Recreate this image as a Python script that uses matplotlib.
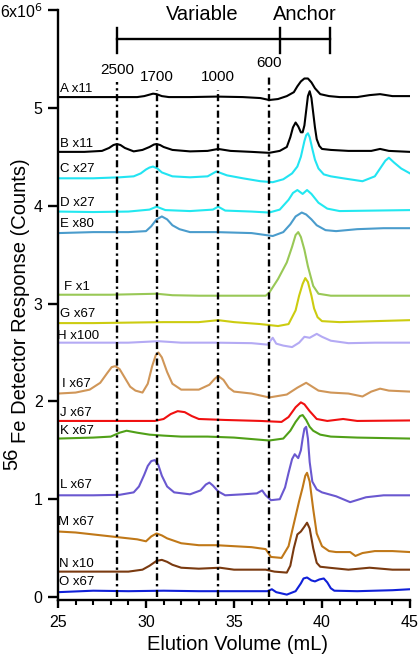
import matplotlib
matplotlib.use("Agg")
import matplotlib.pyplot as plt
from matplotlib.ticker import MultipleLocator

plt.rcParams['font.family'] = ['Liberation Sans', 'DejaVu Sans']

# trace names and scale factors
names = ["A x11", "B x11", "C x27", "D x27", "E x80", "F x1", "G x67", "H x100",
         "I x67", "J x67", "K x67", "L x67", "M x67", "N x10", "O x67"]
colors = ["#000000", "#000000", "#22e4f2", "#22e8f0", "#4a9ccc", "#99c856", "#cccc10",
          "#b4aaf4", "#d09658", "#f01010", "#50a018", "#6a58d0", "#c07818", "#7a3a10", "#1020d8"]

# elution volume (mL) / 56Fe response (x10^6 counts)
A_x = [25, 27, 28.3, 29.5, 29.9, 30.2, 30.4, 30.6, 30.9, 31.3, 32.5, 34.0, 35.5, 36.5, 37.0,
       37.5, 38.0, 38.4, 38.6, 38.8, 39.0, 39.2, 39.4, 39.6, 39.9, 40.4, 41.0, 42.0, 42.7, 43.3,
       44.0, 45]
A_y = [5.11, 5.11, 5.11, 5.11, 5.12, 5.135, 5.145, 5.14, 5.12, 5.11, 5.11, 5.115, 5.11, 5.10,
       5.08, 5.09, 5.12, 5.16, 5.22, 5.27, 5.30, 5.30, 5.26, 5.20, 5.14, 5.12, 5.11, 5.11, 5.13,
       5.14, 5.12, 5.12]

B_x = [25, 26.5, 27.5, 27.9, 28.15, 28.35, 28.55, 28.8, 29.3, 29.8, 30.2, 30.45, 30.6, 30.8,
       31.0, 31.5, 32.5, 33.5, 34.1, 34.8, 36, 37.0, 37.6, 38.0, 38.2, 38.35, 38.5, 38.65, 38.8,
       38.9, 39.0, 39.1, 39.2, 39.3, 39.4, 39.5, 39.6, 39.7, 39.85, 40.0, 40.5, 41.5, 42.8, 43.3,
       43.8, 45]
B_y = [4.55, 4.55, 4.56, 4.59, 4.62, 4.63, 4.62, 4.59, 4.555, 4.57, 4.60, 4.625, 4.63, 4.62,
       4.60, 4.57, 4.555, 4.56, 4.58, 4.56, 4.55, 4.54, 4.56, 4.60, 4.70, 4.80, 4.85, 4.81, 4.75,
       4.75, 4.82, 4.97, 5.12, 5.17, 5.10, 4.95, 4.80, 4.68, 4.61, 4.58, 4.57, 4.56, 4.56, 4.58,
       4.56, 4.55]

C_x = [25, 27, 28.5, 29.3, 29.7, 30.0, 30.2, 30.4, 30.65, 30.9, 31.5, 32.5, 33.5, 34.0, 34.6,
       35.5, 36.5, 37.2, 37.8, 38.3, 38.6, 38.8, 39.0, 39.1, 39.2, 39.3, 39.45, 39.6, 39.8, 40.1,
       40.5, 41.2, 42.3, 43.0, 43.3, 43.6, 43.8, 44.1, 44.5, 45]
C_y = [4.28, 4.28, 4.29, 4.30, 4.33, 4.37, 4.39, 4.40, 4.38, 4.34, 4.30, 4.29, 4.30, 4.35, 4.31,
       4.28, 4.25, 4.24, 4.27, 4.33, 4.40, 4.50, 4.66, 4.72, 4.74, 4.70, 4.58, 4.47, 4.38, 4.32,
       4.30, 4.28, 4.25, 4.30, 4.38, 4.46, 4.49, 4.44, 4.38, 4.33]

D_x = [25, 27, 29, 30.2, 30.6, 31.1, 32.5, 33.8, 34.1, 34.5, 36, 37, 37.6, 38.1, 38.35, 38.6,
       38.9, 39.15, 39.4, 39.8, 40.3, 41, 43, 45]
D_y = [3.94, 3.935, 3.94, 3.96, 3.99, 3.955, 3.945, 3.96, 3.99, 3.95, 3.94, 3.93, 3.96, 4.06,
       4.13, 4.16, 4.12, 4.16, 4.12, 4.03, 3.97, 3.945, 3.95, 3.955]

E_x = [25, 27, 29, 30.0, 30.3, 30.6, 30.9, 31.2, 31.5, 31.9, 32.5, 34, 36, 37.2, 37.8, 38.2,
       38.5, 38.85, 39.1, 39.4, 39.7, 40.2, 40.8, 42, 43.5, 45]
E_y = [3.72, 3.73, 3.73, 3.74, 3.79, 3.86, 3.89, 3.86, 3.80, 3.76, 3.73, 3.73, 3.72, 3.69, 3.73,
       3.81, 3.89, 3.93, 3.91, 3.86, 3.80, 3.75, 3.74, 3.76, 3.77, 3.77]

F_x = [25, 28, 30.6, 31.5, 33, 35, 36.8, 37.0, 37.5, 38.0, 38.3, 38.5, 38.65, 38.8, 39.0, 39.2,
       39.5, 39.8, 40.5, 42, 45]
F_y = [3.09, 3.09, 3.10, 3.085, 3.08, 3.08, 3.08, 3.11, 3.25, 3.42, 3.58, 3.70, 3.73, 3.68,
       3.55, 3.38, 3.18, 3.10, 3.08, 3.08, 3.08]

G_x = [25, 27, 29, 31, 33, 34.1, 35, 36.5, 37.5, 38.1, 38.5, 38.7, 38.9, 39.05, 39.2, 39.4,
       39.55, 39.75, 40.0, 41, 43, 45]
G_y = [2.80, 2.80, 2.805, 2.81, 2.81, 2.83, 2.81, 2.79, 2.77, 2.79, 2.93, 3.08, 3.20, 3.26,
       3.22, 3.08, 2.95, 2.86, 2.82, 2.81, 2.82, 2.83]

H_x = [25, 27, 29, 30.7, 32, 34, 36, 36.9, 37.2, 37.4, 37.8, 38.3, 38.7, 39.0, 39.3, 39.7,
       40.0, 40.5, 41.5, 43, 45]
H_y = [2.60, 2.60, 2.60, 2.615, 2.60, 2.60, 2.595, 2.58, 2.65, 2.59, 2.57, 2.555, 2.60, 2.66,
       2.65, 2.69, 2.66, 2.62, 2.595, 2.60, 2.60]

I_x = [25, 26, 26.8, 27.4, 27.8, 28.05, 28.25, 28.5, 28.8, 29.1, 29.4, 29.8, 30.1, 30.35,
       30.55, 30.7, 30.9, 31.2, 31.5, 32.0, 33.0, 33.6, 33.9, 34.1, 34.4, 34.7, 35.0, 36.0,
       37.0, 38.0, 38.6, 39.1, 39.8, 40.5, 41.5, 42.3, 42.8, 43.3, 43.8, 45]
I_y = [2.08, 2.09, 2.12, 2.19, 2.29, 2.35, 2.36, 2.33, 2.24, 2.15, 2.11, 2.09, 2.18, 2.36,
       2.47, 2.50, 2.45, 2.30, 2.18, 2.12, 2.12, 2.17, 2.23, 2.26, 2.22, 2.14, 2.10, 2.08,
       2.04, 2.07, 2.14, 2.19, 2.11, 2.09, 2.08, 2.05, 2.10, 2.13, 2.11, 2.10]

J_x = [25, 28, 30.5, 31.0, 31.4, 31.8, 32.2, 32.6, 33.0, 34.5, 36.5, 37.7, 38.1, 38.5, 38.8,
       39.0, 39.3, 39.7, 40.3, 41.2, 42, 45]
J_y = [1.80, 1.80, 1.80, 1.82, 1.87, 1.90, 1.89, 1.85, 1.82, 1.81, 1.80, 1.79, 1.84, 1.94,
       1.99, 1.97, 1.90, 1.82, 1.80, 1.82, 1.80, 1.805]

K_x = [25, 27, 28.0, 28.5, 28.9, 29.5, 30.2, 31, 32, 33.5, 35, 37, 37.8, 38.2, 38.5, 38.75,
       38.9, 39.1, 39.3, 39.5, 39.9, 40.5, 42, 45]
K_y = [1.62, 1.63, 1.64, 1.68, 1.70, 1.68, 1.66, 1.65, 1.64, 1.64, 1.63, 1.60, 1.62, 1.70,
       1.79, 1.85, 1.86, 1.81, 1.74, 1.70, 1.66, 1.64, 1.63, 1.62]

L_x = [25, 27, 28.5, 29.3, 29.6, 29.9, 30.1, 30.3, 30.5, 30.7, 30.9, 31.2, 31.6, 32.5, 33.1,
       33.4, 33.6, 33.8, 34.1, 34.5, 35.5, 36.3, 36.6, 36.8, 37.1, 37.6, 37.9, 38.1, 38.3, 38.45,
       38.65, 38.8, 38.9, 39.0, 39.1, 39.2, 39.3, 39.45, 39.7, 40.0, 40.8, 41.6, 42.5, 43.5, 45]
L_y = [1.04, 1.04, 1.045, 1.07, 1.13, 1.25, 1.34, 1.39, 1.40, 1.35, 1.24, 1.13, 1.07, 1.05,
       1.09, 1.15, 1.17, 1.14, 1.08, 1.04, 1.05, 1.06, 1.09, 1.04, 0.99, 1.00, 1.12, 1.27, 1.41,
       1.46, 1.42, 1.50, 1.62, 1.72, 1.74, 1.62, 1.38, 1.18, 1.10, 1.07, 1.03, 0.97, 1.02, 1.04,
       1.04]

M_x = [25, 26, 27.5, 28.5, 29.5, 30.0, 30.3, 30.6, 30.9, 31.2, 32.0, 33.0, 34.0, 35.0, 36.0,
       36.8, 37.1, 37.7, 38.1, 38.4, 38.7, 38.9, 39.05, 39.15, 39.3, 39.5, 39.7, 40.0, 40.4, 40.8,
       41.6, 41.9, 42.3, 43.0, 44, 45]
M_y = [0.67, 0.66, 0.63, 0.61, 0.59, 0.57, 0.62, 0.65, 0.63, 0.60, 0.55, 0.53, 0.53, 0.52, 0.51,
       0.49, 0.41, 0.40, 0.52, 0.75, 0.98, 1.12, 1.24, 1.27, 1.18, 0.90, 0.65, 0.52, 0.47, 0.46,
       0.46, 0.42, 0.45, 0.47, 0.47, 0.46]

N_x = [25, 27, 29, 29.8, 30.2, 30.6, 30.9, 31.2, 31.5, 32.0, 33.0, 34.2, 35.0, 36.8, 37.3, 38.0,
       38.2, 38.4, 38.6, 38.8, 39.0, 39.15, 39.3, 39.5, 39.7, 39.9, 40.4, 41.5, 42.7, 44, 45]
N_y = [0.26, 0.26, 0.26, 0.28, 0.32, 0.37, 0.38, 0.36, 0.33, 0.30, 0.29, 0.30, 0.28, 0.28, 0.26,
       0.25, 0.32, 0.50, 0.64, 0.67, 0.72, 0.76, 0.70, 0.50, 0.35, 0.31, 0.30, 0.28, 0.30, 0.28,
       0.28]

O_x = [25, 27, 29, 31, 33, 35, 36.9, 37.15, 37.4, 38.0, 38.5, 38.8, 38.95, 39.15, 39.4, 39.6,
       39.85, 40.1, 40.3, 40.5, 40.7, 42, 44, 45]
O_y = [0.05, 0.065, 0.06, 0.065, 0.06, 0.06, 0.06, 0.08, 0.05, 0.025, 0.06, 0.14, 0.19, 0.20,
       0.17, 0.16, 0.18, 0.19, 0.15, 0.09, 0.065, 0.06, 0.07, 0.08]

traces = [(A_x, A_y), (B_x, B_y), (C_x, C_y), (D_x, D_y), (E_x, E_y), (F_x, F_y), (G_x, G_y),
          (H_x, H_y), (I_x, I_y), (J_x, J_y), (K_x, K_y), (L_x, L_y), (M_x, M_y), (N_x, N_y),
          (O_x, O_y)]

# size markers (Da) and their elution volumes
marker_vols = [28.35, 30.64, 34.1, 37.0]
marker_names = ["2500", "1700", "1000", "600"]
# region bracket edges
variable_range = (28.35, 37.6)
anchor_range = (37.6, 40.45)

fig = plt.figure(figsize=(4.19, 6.57), dpi=100)
ax = fig.add_axes([58 / 419, 57 / 657, 352 / 419, 590 / 657])

for (x, y), c in zip(traces, colors):
    ax.plot(x, y, color=c, lw=1.5, solid_joinstyle='round')

# trace labels
label_y = [5.19, 4.63, 4.38, 4.03, 3.81, 3.17, 2.89, 2.67, 2.18, 1.88, 1.70, 1.15, 0.77, 0.34, 0.15]
label_x = [25.1, 25.1, 25.1, 25.1, 25.1, 25.35, 25.1, 24.95, 25.25, 25.1, 25.1, 25.1, 25.0, 25.05, 25.05]
for name, lx, ly in zip(names, label_x, label_y):
    ax.text(lx, ly, name, fontsize=9.5, ha='left', va='center', clip_on=False)

# dash-dot size markers
tops = [5.26, 5.18, 5.18, 5.33]
for v, t, lab in zip(marker_vols, tops, marker_names):
    ax.plot([v, v], [0, t], color='black', lw=1.7, ls=(0, (3, 1.5, 1, 1.5)))
    ax.text(v, t + 0.06, lab, fontsize=11, ha='center', va='bottom')

# Variable / Anchor bracket
yb = 5.70
ax.plot([variable_range[0], anchor_range[1]], [yb, yb], color='black', lw=1.7, clip_on=False)
for v in (variable_range[0], variable_range[1], anchor_range[1]):
    ax.plot([v, v], [5.56, 5.82], color='black', lw=1.7, clip_on=False)
ax.text(33.2, 5.95, "Variable", fontsize=14.5, ha='center', va='center')
ax.text(39.0, 5.95, "Anchor", fontsize=14.5, ha='center', va='center')

ax.set_xlim(25, 45)
ax.set_ylim(-0.03, 6.0)
ax.spines['top'].set_visible(False)
ax.spines['right'].set_visible(False)
for s in ('left', 'bottom'):
    ax.spines[s].set_linewidth(1.7)

ax.set_yticks([0, 1, 2, 3, 4, 5, 6])
ax.set_yticklabels(['0', '1', '2', '3', '4', '5', '6x10$^{6}$'])
ax.set_xticks([25, 30, 35, 40, 45])
ax.xaxis.set_minor_locator(MultipleLocator(1))
ax.tick_params(axis='y', length=7, width=1.7, labelsize=11.5, pad=4)
ax.tick_params(axis='x', which='major', length=6, width=1.7, labelsize=11.5, pad=5)
ax.tick_params(axis='x', which='minor', length=3.5, width=1.5)

fig.text(237 / 419, 1 - 645 / 657, "Elution Volume (mL)", fontsize=14.5, ha='center', va='center')
# y label with raised isotope number
fig.text(17 / 419, 1 - 470 / 657, "56", fontsize=14.5, rotation=90,
         rotation_mode='anchor', ha='left', va='baseline')
fig.text(26 / 419, 1 - 443 / 657, "Fe Detector Response (Counts)", fontsize=14.5, rotation=90,
         rotation_mode='anchor', ha='left', va='baseline')

fig.savefig("out.png", dpi=100)
